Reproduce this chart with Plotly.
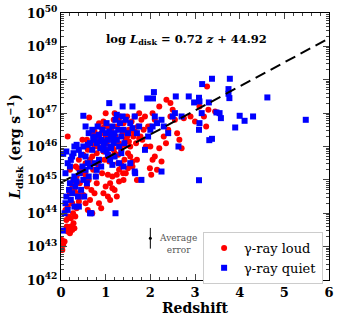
import plotly.graph_objects as go

# gamma-ray loud sources (redshift, log L_disk)
loud_z = [0.02, 0.05, 0.03, 0.08, 0.10, 0.13, 0.15, 0.18, 0.20, 0.22, 0.25, 0.28, 0.30, 0.12, 0.17,
          0.22, 0.27, 0.32, 0.10, 0.15, 0.25, 0.35, 0.40, 0.45, 0.20, 0.30, 0.38, 0.42, 0.50, 0.55,
          0.60, 0.65, 0.70, 0.58, 0.62, 0.68, 0.75, 0.80, 0.85, 0.90, 0.95, 1.00, 1.05, 1.10, 1.20,
          1.25, 1.30, 1.15, 1.05, 0.92, 0.78, 0.72, 0.83, 0.65, 0.55, 0.50, 0.45, 0.35, 0.28, 0.20,
          0.15, 0.60, 0.68, 0.70, 0.75, 0.78, 0.80, 0.85, 0.88, 0.90, 0.95, 0.98, 1.00, 1.02, 1.05,
          1.08, 1.10, 1.12, 1.15, 1.18, 1.20, 1.22, 1.25, 1.28, 1.30, 1.32, 1.35, 1.38, 1.40, 1.42,
          1.45, 1.48, 1.50, 1.52, 1.55, 1.58, 1.60, 1.62, 1.65, 1.68, 1.70, 1.72, 1.75, 1.78, 1.80,
          1.85, 1.88, 1.90, 1.95, 0.63, 0.75, 0.85, 1.00, 0.95, 1.20, 1.30, 1.10, 1.15, 1.25, 1.30,
          1.35, 1.40, 1.45, 1.50, 1.55, 1.39, 1.60, 2.00, 2.05, 2.10, 2.20, 2.25, 2.15, 2.30, 2.35,
          2.40, 2.45, 2.50, 2.55, 2.60, 2.45, 2.36, 2.20, 2.05, 2.10, 2.00, 2.65, 2.70, 2.75, 2.90,
          3.00, 3.10, 3.20, 3.25, 3.30, 3.45, 3.27, 1.99, 2.02, 1.70, 0.40, 0.52, 0.88, 0.98, 1.12,
          0.33, 0.48, 0.72, 0.92, 1.48, 1.62, 1.82, 0.58, 0.82, 1.02, 0.25, 0.38, 0.55, 0.68, 0.95,
          1.08, 1.18, 1.28, 1.42, 1.52, 1.65, 1.75]
loud_logL = [43.20, 43.05, 42.90, 43.15, 43.50, 43.60, 43.45, 43.55, 43.40, 43.60, 43.50, 43.70, 43.55, 43.80, 43.90,
             43.85, 44.00, 43.90, 44.10, 44.20, 44.30, 44.15, 44.35, 44.50, 44.60, 44.70, 44.60, 44.90, 44.55, 44.30,
             44.10, 44.40, 44.00, 44.80, 45.00, 44.70, 44.60, 44.90, 44.30, 44.15, 44.60, 44.80, 44.50, 44.90, 44.70,
             44.50, 44.95, 45.10, 45.15, 45.20, 45.10, 45.30, 45.45, 45.60, 45.50, 45.75, 45.30, 45.10, 45.00, 45.30,
             46.30, 45.90, 46.10, 45.70, 46.00, 46.30, 45.80, 46.20, 45.95, 46.40, 46.10, 45.60, 46.30, 45.90, 46.60,
             46.20, 45.70, 46.50, 46.00, 46.80, 45.80, 46.30, 46.60, 45.50, 46.10, 46.90, 45.90, 46.40, 46.70, 45.60,
             46.20, 46.90, 45.80, 46.50, 46.00, 46.75, 45.40, 46.30, 46.90, 46.10, 45.60, 46.60, 47.00, 46.30, 46.80,
             46.50, 46.90, 46.00, 46.60, 46.87, 46.45, 46.70, 47.00, 46.75, 47.00, 46.85, 44.40, 44.75, 45.15, 45.30,
             45.45, 45.00, 45.20, 45.35, 45.70, 45.20, 45.55, 46.00, 45.60, 45.70, 45.95, 45.55, 45.30, 46.30, 46.10,
             46.50, 46.90, 47.10, 46.80, 46.40, 47.30, 47.40, 47.20, 47.00, 46.80, 46.60, 46.20, 45.95, 46.85, 46.90,
             46.75, 47.20, 46.90, 46.60, 47.10, 47.05, 47.80, 45.35, 45.15, 45.00, 45.60, 45.20, 45.60, 46.60, 46.40,
             45.40, 46.20, 46.40, 46.55, 46.30, 46.45, 46.20, 46.20, 46.00, 46.10, 44.85, 45.35, 45.15, 45.50, 45.85,
             45.55, 45.90, 45.75, 46.05, 46.15, 46.45, 46.25]

# gamma-ray quiet sources (redshift, log L_disk)
quiet_z = [0.04, 0.08, 0.10, 0.12, 0.15, 0.18, 0.20, 0.22, 0.25, 0.28, 0.30, 0.32, 0.35, 0.38, 0.40,
           0.42, 0.45, 0.48, 0.50, 0.52, 0.55, 0.58, 0.60, 0.62, 0.65, 0.68, 1.22, 0.10, 0.15, 0.20,
           0.25, 0.30, 0.05, 0.12, 0.22, 0.30, 0.28, 0.35, 0.40, 0.45, 0.50, 0.55, 0.60, 0.70, 0.75,
           0.80, 0.85, 0.90, 0.95, 0.78, 0.65, 0.75, 0.50, 0.55, 0.62, 0.65, 0.70, 0.75, 0.80, 0.82,
           0.85, 0.88, 0.90, 0.93, 0.96, 1.00, 1.02, 1.05, 1.08, 1.10, 1.12, 1.15, 1.18, 1.20, 1.22,
           1.25, 1.28, 1.30, 1.32, 1.35, 1.38, 1.40, 1.42, 1.45, 1.50, 1.55, 1.60, 1.65, 1.70, 1.75,
           1.08, 1.38, 1.60, 1.25, 1.10, 1.20, 1.15, 1.05, 1.30, 1.35, 1.40, 1.55, 1.65, 1.80, 1.88,
           1.95, 2.00, 2.05, 2.10, 2.15, 2.25, 2.30, 2.40, 2.50, 2.55, 2.63, 2.70, 2.25, 1.93, 2.06,
           2.08, 2.57, 2.86, 3.09, 3.10, 2.98, 3.31, 3.16, 3.38, 3.78, 3.75, 3.75, 3.77, 4.62, 5.48,
           4.00, 4.11, 3.90, 4.30, 3.48, 3.55, 3.58, 3.15, 3.10, 3.09, 3.32, 3.38, 3.09, 1.66, 0.98,
           1.02, 1.12, 0.72, 0.88, 1.18]
quiet_logL = [43.48, 44.00, 44.30, 44.50, 44.10, 44.70, 44.90, 44.40, 44.60, 45.00, 44.20, 44.80, 44.95, 44.50, 44.20,
              45.20, 44.70, 45.40, 45.00, 44.50, 45.30, 44.90, 45.50, 45.10, 44.00, 44.00, 44.00, 45.20, 45.50, 45.40,
              45.70, 45.10, 45.78, 45.85, 45.60, 46.00, 45.80, 46.05, 45.90, 45.75, 46.00, 45.70, 46.05, 45.90, 45.50,
              45.30, 45.60, 45.40, 45.90, 45.10, 45.40, 46.20, 46.92, 46.60, 46.40, 46.10, 46.50, 46.30, 46.10, 46.60,
              46.35, 45.95, 46.20, 46.50, 46.00, 46.40, 46.70, 46.20, 46.45, 46.00, 46.30, 46.60, 46.10, 46.40, 46.80,
              46.20, 46.50, 46.00, 46.70, 46.30, 46.90, 46.50, 46.10, 46.80, 46.40, 46.70, 46.55, 46.90, 46.40, 46.60,
              47.30, 47.20, 47.20, 46.95, 45.60, 45.70, 45.45, 45.75, 45.50, 45.80, 45.40, 45.50, 45.25, 45.00, 45.90,
              46.30, 46.50, 46.60, 46.90, 46.70, 46.80, 46.60, 46.40, 46.90, 47.00, 46.00, 46.90, 45.25, 47.44, 47.44,
              47.63, 47.50, 47.50, 47.46, 47.35, 47.32, 47.32, 47.87, 48.03, 48.03, 47.72, 47.58, 47.45, 47.47, 46.80,
              46.92, 46.77, 46.57, 46.90, 47.02, 47.00, 46.85, 47.00, 46.70, 46.50, 46.19, 46.23, 44.99, 45.20, 46.15,
              45.85, 45.95, 46.25, 46.15, 46.25]

# fit: log L_disk = 0.72 z + 44.92
fit_slope = 0.72
fit_intercept = 44.92
fit_z = [0, 6]

# average error bar (log units)
err_z = [2.0]
err_logL = [43.25]
err_dex = 0.31

y_decades = list(range(42, 51))

font = "DejaVu Serif"

fig = go.Figure()
fig.add_trace(go.Scatter(
    x=loud_z, y=[10.0 ** v for v in loud_logL], mode="markers", name="γ-ray loud",
    marker=dict(symbol="circle", size=6, color="#ff0000", line=dict(width=0))
))
fig.add_trace(go.Scatter(
    x=quiet_z, y=[10.0 ** v for v in quiet_logL], mode="markers", name="γ-ray quiet",
    marker=dict(symbol="square", size=6, color="#0000ff", line=dict(width=0))
))
fig.add_trace(go.Scatter(
    x=fit_z, y=[10.0 ** (fit_slope * z + fit_intercept) for z in fit_z], mode="lines",
    line=dict(color="black", width=2, dash="11px,6px"), showlegend=False
))
fig.add_trace(go.Scatter(
    x=err_z, y=[10.0 ** v for v in err_logL], mode="markers", showlegend=False,
    marker=dict(size=3, color="black"),
    error_y=dict(type="data", symmetric=False,
                 array=[10.0 ** (v + err_dex) - 10.0 ** v for v in err_logL],
                 arrayminus=[10.0 ** v - 10.0 ** (v - err_dex) for v in err_logL],
                 color="black", thickness=1, width=0)
))

fig.add_annotation(x=2.62, y=43.08, xref="x", yref="y", text="Average<br>error", showarrow=False,
                   font=dict(family=font, size=9, color="#555555"), align="center")
fig.add_annotation(x=0.47, y=0.935, xref="paper", yref="paper",
                   text="<b>log <i>L</i><sub>disk</sub> = 0.72 <i>z</i> + 44.92</b>",
                   showarrow=False, font=dict(family=font, size=11.5, color="black"))

fig.update_xaxes(
    range=[0, 6], dtick=1, ticks="inside", ticklen=6, mirror="allticks", showline=True,
    linecolor="black", linewidth=1, showgrid=False, zeroline=False, automargin=False,
    tickfont=dict(family=font, size=13, color="black"), tickprefix="<b>", ticksuffix="</b>",
    minor=dict(ticks="inside", ticklen=3, dtick=0.2, showgrid=False),
    title=dict(text="<b>Redshift</b>", font=dict(family=font, size=14, color="black"), standoff=2)
)
fig.update_yaxes(
    type="log", range=[42, 50], tickvals=[10.0 ** k for k in y_decades],
    ticktext=["<b>10<sup>%d</sup></b>" % k for k in y_decades],
    ticks="inside", ticklen=6, mirror="allticks", showline=True, linecolor="black", linewidth=1,
    showgrid=False, zeroline=False, automargin=False, tickfont=dict(family=font, size=13, color="black"),
    minor=dict(ticks="inside", ticklen=3, dtick="D1", showgrid=False),
    title=dict(text="<b><i>L</i><sub>disk</sub> (erg s<sup>−1</sup>)</b>",
               font=dict(family=font, size=14, color="black"), standoff=2)
)

fig.update_layout(
    width=341, height=323, margin=dict(l=61, r=12, t=13, b=43),
    plot_bgcolor="white", paper_bgcolor="white",
    legend=dict(x=0.978, y=0.18, xanchor="right", yanchor="top", bgcolor="white",
                bordercolor="#cccccc", borderwidth=1, font=dict(family=font, size=13, color="black"),
                itemwidth=30, tracegroupgap=0)
)

# drop the default body margin so the figure sits at the page corner
fig.write_html("out.html", config={"displayModeBar": False},
               post_script="document.body.style.margin='0';")
